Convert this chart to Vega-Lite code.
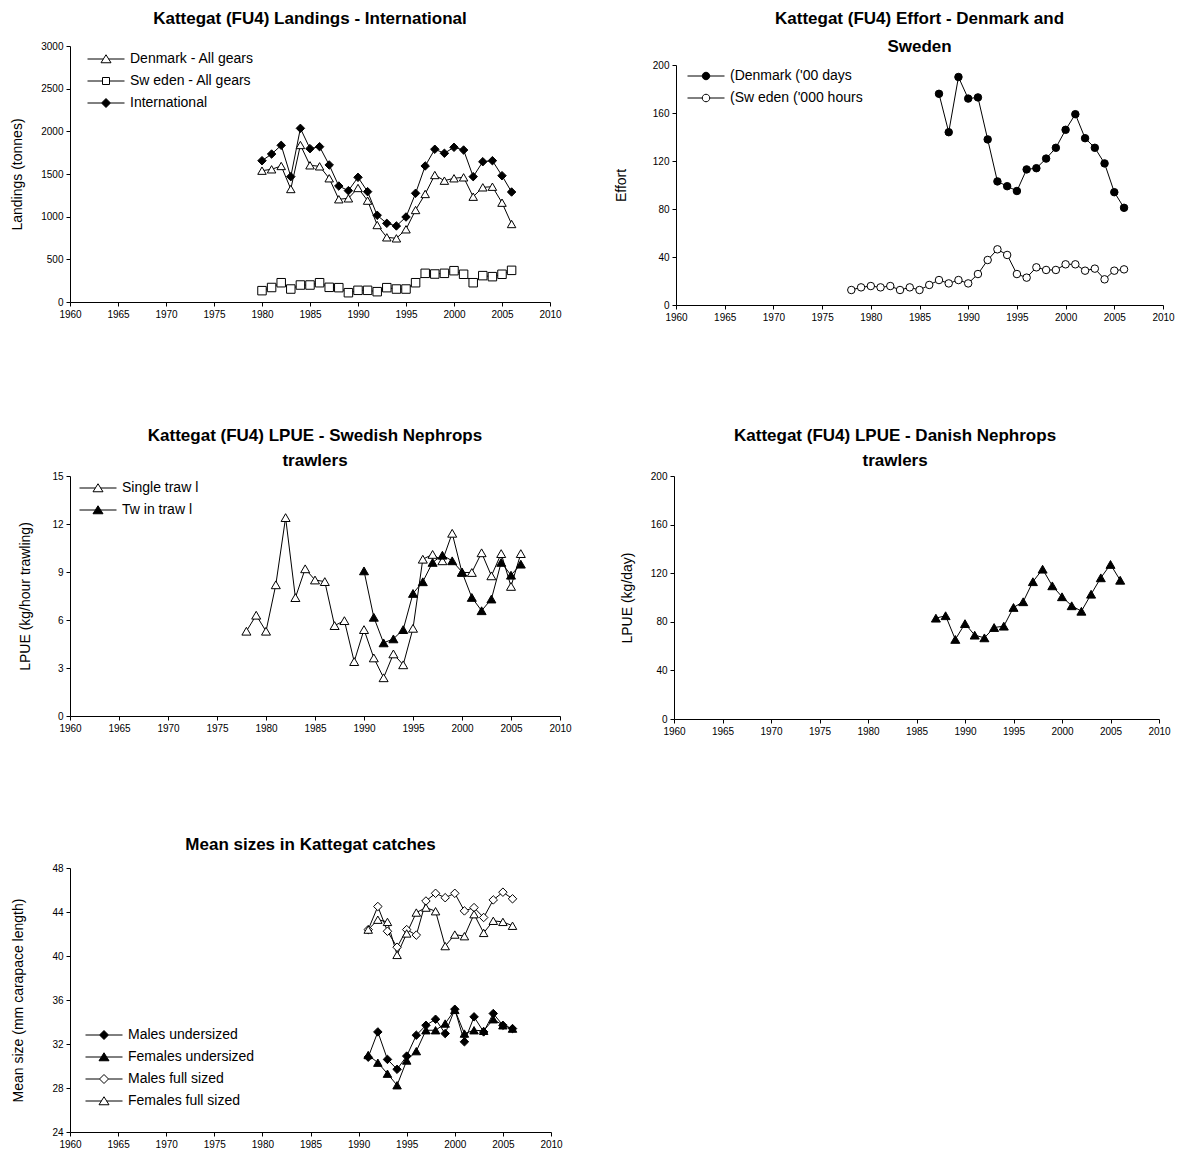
{
  "$schema": "https://vega.github.io/schema/vega-lite/v6.json",
  "padding": {"left": 10, "top": 10, "right": 5, "bottom": 3},
  "background": "white",
  "config": {
    "font": "Liberation Sans",
    "view": {"stroke": null},
    "axis": {"grid": false, "labelFlush": false, "domainColor": "black", "domainWidth": 1, "tickColor": "black", "tickSize": 4, "labelColor": "black", "labelFontSize": 10, "titleColor": "black", "titleFontSize": 14, "titleFontWeight": "normal", "labelPadding": 3},
    "axisY": {"minExtent": 30, "maxExtent": 30},
    "title": {"fontSize": 17, "fontWeight": "bold", "color": "black", "anchor": "middle"},
    "legend": {"labelFontSize": 14, "labelColor": "black", "symbolSize": 100, "symbolOpacity": 1, "labelOffset": 17, "rowPadding": 8, "padding": 0, "symbolStrokeWidth": 1}
  },
  "datasets": {
    "landings": [
      {"year": 1980, "series": "Denmark - All gears", "value": 1539}, {"year": 1981, "series": "Denmark - All gears", "value": 1555}, {"year": 1982, "series": "Denmark - All gears", "value": 1594}, {"year": 1983, "series": "Denmark - All gears", "value": 1324}, {"year": 1984, "series": "Denmark - All gears", "value": 1840}, {"year": 1985, "series": "Denmark - All gears", "value": 1602}, {"year": 1986, "series": "Denmark - All gears", "value": 1590}, {"year": 1987, "series": "Denmark - All gears", "value": 1450}, {"year": 1988, "series": "Denmark - All gears", "value": 1204}, {"year": 1989, "series": "Denmark - All gears", "value": 1215}, {"year": 1990, "series": "Denmark - All gears", "value": 1336}, {"year": 1991, "series": "Denmark - All gears", "value": 1188}, {"year": 1992, "series": "Denmark - All gears", "value": 902}, {"year": 1993, "series": "Denmark - All gears", "value": 758}, {"year": 1994, "series": "Denmark - All gears", "value": 746}, {"year": 1995, "series": "Denmark - All gears", "value": 852}, {"year": 1996, "series": "Denmark - All gears", "value": 1078}, {"year": 1997, "series": "Denmark - All gears", "value": 1266}, {"year": 1998, "series": "Denmark - All gears", "value": 1488}, {"year": 1999, "series": "Denmark - All gears", "value": 1422}, {"year": 2000, "series": "Denmark - All gears", "value": 1450}, {"year": 2001, "series": "Denmark - All gears", "value": 1461}, {"year": 2002, "series": "Denmark - All gears", "value": 1234}, {"year": 2003, "series": "Denmark - All gears", "value": 1344}, {"year": 2004, "series": "Denmark - All gears", "value": 1351}, {"year": 2005, "series": "Denmark - All gears", "value": 1164}, {"year": 2006, "series": "Denmark - All gears", "value": 914},
      {"year": 1980, "series": "Sw eden - All gears", "value": 133}, {"year": 1981, "series": "Sw eden - All gears", "value": 170}, {"year": 1982, "series": "Sw eden - All gears", "value": 226}, {"year": 1983, "series": "Sw eden - All gears", "value": 152}, {"year": 1984, "series": "Sw eden - All gears", "value": 199}, {"year": 1985, "series": "Sw eden - All gears", "value": 199}, {"year": 1986, "series": "Sw eden - All gears", "value": 226}, {"year": 1987, "series": "Sw eden - All gears", "value": 172}, {"year": 1988, "series": "Sw eden - All gears", "value": 168}, {"year": 1989, "series": "Sw eden - All gears", "value": 109}, {"year": 1990, "series": "Sw eden - All gears", "value": 137}, {"year": 1991, "series": "Sw eden - All gears", "value": 137}, {"year": 1992, "series": "Sw eden - All gears", "value": 121}, {"year": 1993, "series": "Sw eden - All gears", "value": 168}, {"year": 1994, "series": "Sw eden - All gears", "value": 152}, {"year": 1995, "series": "Sw eden - All gears", "value": 152}, {"year": 1996, "series": "Sw eden - All gears", "value": 226}, {"year": 1997, "series": "Sw eden - All gears", "value": 336}, {"year": 1998, "series": "Sw eden - All gears", "value": 328}, {"year": 1999, "series": "Sw eden - All gears", "value": 336}, {"year": 2000, "series": "Sw eden - All gears", "value": 367}, {"year": 2001, "series": "Sw eden - All gears", "value": 325}, {"year": 2002, "series": "Sw eden - All gears", "value": 226}, {"year": 2003, "series": "Sw eden - All gears", "value": 309}, {"year": 2004, "series": "Sw eden - All gears", "value": 297}, {"year": 2005, "series": "Sw eden - All gears", "value": 325}, {"year": 2006, "series": "Sw eden - All gears", "value": 371},
      {"year": 1980, "series": "International", "value": 1656}, {"year": 1981, "series": "International", "value": 1734}, {"year": 1982, "series": "International", "value": 1836}, {"year": 1983, "series": "International", "value": 1469}, {"year": 1984, "series": "International", "value": 2035}, {"year": 1985, "series": "International", "value": 1797}, {"year": 1986, "series": "International", "value": 1820}, {"year": 1987, "series": "International", "value": 1606}, {"year": 1988, "series": "International", "value": 1359}, {"year": 1989, "series": "International", "value": 1305}, {"year": 1990, "series": "International", "value": 1461}, {"year": 1991, "series": "International", "value": 1293}, {"year": 1992, "series": "International", "value": 1016}, {"year": 1993, "series": "International", "value": 922}, {"year": 1994, "series": "International", "value": 891}, {"year": 1995, "series": "International", "value": 996}, {"year": 1996, "series": "International", "value": 1274}, {"year": 1997, "series": "International", "value": 1594}, {"year": 1998, "series": "International", "value": 1790}, {"year": 1999, "series": "International", "value": 1743}, {"year": 2000, "series": "International", "value": 1813}, {"year": 2001, "series": "International", "value": 1781}, {"year": 2002, "series": "International", "value": 1469}, {"year": 2003, "series": "International", "value": 1644}, {"year": 2004, "series": "International", "value": 1656}, {"year": 2005, "series": "International", "value": 1480}, {"year": 2006, "series": "International", "value": 1289}
    ],
    "effort": [
      {"year": 1987, "series": "(Denmark ('00 days", "value": 176}, {"year": 1988, "series": "(Denmark ('00 days", "value": 144}, {"year": 1989, "series": "(Denmark ('00 days", "value": 190}, {"year": 1990, "series": "(Denmark ('00 days", "value": 172}, {"year": 1991, "series": "(Denmark ('00 days", "value": 173}, {"year": 1992, "series": "(Denmark ('00 days", "value": 138}, {"year": 1993, "series": "(Denmark ('00 days", "value": 103}, {"year": 1994, "series": "(Denmark ('00 days", "value": 99}, {"year": 1995, "series": "(Denmark ('00 days", "value": 95}, {"year": 1996, "series": "(Denmark ('00 days", "value": 113}, {"year": 1997, "series": "(Denmark ('00 days", "value": 114}, {"year": 1998, "series": "(Denmark ('00 days", "value": 122}, {"year": 1999, "series": "(Denmark ('00 days", "value": 131}, {"year": 2000, "series": "(Denmark ('00 days", "value": 146}, {"year": 2001, "series": "(Denmark ('00 days", "value": 159}, {"year": 2002, "series": "(Denmark ('00 days", "value": 139}, {"year": 2003, "series": "(Denmark ('00 days", "value": 131}, {"year": 2004, "series": "(Denmark ('00 days", "value": 118}, {"year": 2005, "series": "(Denmark ('00 days", "value": 94}, {"year": 2006, "series": "(Denmark ('00 days", "value": 81},
      {"year": 1978, "series": "(Sw eden ('000 hours", "value": 12.5}, {"year": 1979, "series": "(Sw eden ('000 hours", "value": 14.7}, {"year": 1980, "series": "(Sw eden ('000 hours", "value": 15.8}, {"year": 1981, "series": "(Sw eden ('000 hours", "value": 14.7}, {"year": 1982, "series": "(Sw eden ('000 hours", "value": 15.8}, {"year": 1983, "series": "(Sw eden ('000 hours", "value": 12.5}, {"year": 1984, "series": "(Sw eden ('000 hours", "value": 14.7}, {"year": 1985, "series": "(Sw eden ('000 hours", "value": 12.5}, {"year": 1986, "series": "(Sw eden ('000 hours", "value": 16.7}, {"year": 1987, "series": "(Sw eden ('000 hours", "value": 20.8}, {"year": 1988, "series": "(Sw eden ('000 hours", "value": 18}, {"year": 1989, "series": "(Sw eden ('000 hours", "value": 20.8}, {"year": 1990, "series": "(Sw eden ('000 hours", "value": 18}, {"year": 1991, "series": "(Sw eden ('000 hours", "value": 25.8}, {"year": 1992, "series": "(Sw eden ('000 hours", "value": 37.5}, {"year": 1993, "series": "(Sw eden ('000 hours", "value": 46.4}, {"year": 1994, "series": "(Sw eden ('000 hours", "value": 41.7}, {"year": 1995, "series": "(Sw eden ('000 hours", "value": 25.8}, {"year": 1996, "series": "(Sw eden ('000 hours", "value": 22.8}, {"year": 1997, "series": "(Sw eden ('000 hours", "value": 31.4}, {"year": 1998, "series": "(Sw eden ('000 hours", "value": 29.2}, {"year": 1999, "series": "(Sw eden ('000 hours", "value": 29.2}, {"year": 2000, "series": "(Sw eden ('000 hours", "value": 33.9}, {"year": 2001, "series": "(Sw eden ('000 hours", "value": 33.9}, {"year": 2002, "series": "(Sw eden ('000 hours", "value": 28.6}, {"year": 2003, "series": "(Sw eden ('000 hours", "value": 30.3}, {"year": 2004, "series": "(Sw eden ('000 hours", "value": 21.4}, {"year": 2005, "series": "(Sw eden ('000 hours", "value": 28.6}, {"year": 2006, "series": "(Sw eden ('000 hours", "value": 29.7}
    ],
    "lpue_se": [
      {"year": 1978, "series": "Single traw l", "value": 5.3}, {"year": 1979, "series": "Single traw l", "value": 6.3}, {"year": 1980, "series": "Single traw l", "value": 5.3}, {"year": 1981, "series": "Single traw l", "value": 8.2}, {"year": 1982, "series": "Single traw l", "value": 12.4}, {"year": 1983, "series": "Single traw l", "value": 7.4}, {"year": 1984, "series": "Single traw l", "value": 9.2}, {"year": 1985, "series": "Single traw l", "value": 8.5}, {"year": 1986, "series": "Single traw l", "value": 8.4}, {"year": 1987, "series": "Single traw l", "value": 5.65}, {"year": 1988, "series": "Single traw l", "value": 5.96}, {"year": 1989, "series": "Single traw l", "value": 3.4}, {"year": 1990, "series": "Single traw l", "value": 5.4}, {"year": 1991, "series": "Single traw l", "value": 3.63}, {"year": 1992, "series": "Single traw l", "value": 2.39}, {"year": 1993, "series": "Single traw l", "value": 3.88}, {"year": 1994, "series": "Single traw l", "value": 3.2}, {"year": 1995, "series": "Single traw l", "value": 5.48}, {"year": 1996, "series": "Single traw l", "value": 9.8}, {"year": 1997, "series": "Single traw l", "value": 10.1}, {"year": 1998, "series": "Single traw l", "value": 9.7}, {"year": 1999, "series": "Single traw l", "value": 11.42}, {"year": 2000, "series": "Single traw l", "value": 8.97}, {"year": 2001, "series": "Single traw l", "value": 8.97}, {"year": 2002, "series": "Single traw l", "value": 10.2}, {"year": 2003, "series": "Single traw l", "value": 8.76}, {"year": 2004, "series": "Single traw l", "value": 10.15}, {"year": 2005, "series": "Single traw l", "value": 8.1}, {"year": 2006, "series": "Single traw l", "value": 10.15},
      {"year": 1990, "series": "Tw in traw l", "value": 9.07}, {"year": 1991, "series": "Tw in traw l", "value": 6.17}, {"year": 1992, "series": "Tw in traw l", "value": 4.57}, {"year": 1993, "series": "Tw in traw l", "value": 4.82}, {"year": 1994, "series": "Tw in traw l", "value": 5.4}, {"year": 1995, "series": "Tw in traw l", "value": 7.66}, {"year": 1996, "series": "Tw in traw l", "value": 8.39}, {"year": 1997, "series": "Tw in traw l", "value": 9.6}, {"year": 1998, "series": "Tw in traw l", "value": 10.05}, {"year": 1999, "series": "Tw in traw l", "value": 9.7}, {"year": 2000, "series": "Tw in traw l", "value": 9.0}, {"year": 2001, "series": "Tw in traw l", "value": 7.41}, {"year": 2002, "series": "Tw in traw l", "value": 6.58}, {"year": 2003, "series": "Tw in traw l", "value": 7.31}, {"year": 2004, "series": "Tw in traw l", "value": 9.6}, {"year": 2005, "series": "Tw in traw l", "value": 8.8}, {"year": 2006, "series": "Tw in traw l", "value": 9.49}
    ],
    "lpue_dk": [
      {"year": 1987, "value": 83}, {"year": 1988, "value": 85}, {"year": 1989, "value": 65.5}, {"year": 1990, "value": 78.5}, {"year": 1991, "value": 69}, {"year": 1992, "value": 66.8}, {"year": 1993, "value": 75.3}, {"year": 1994, "value": 76.4}, {"year": 1995, "value": 91.8}, {"year": 1996, "value": 96.5}, {"year": 1997, "value": 113}, {"year": 1998, "value": 123.3}, {"year": 1999, "value": 109.6}, {"year": 2000, "value": 100.6}, {"year": 2001, "value": 93.2}, {"year": 2002, "value": 88.7}, {"year": 2003, "value": 102.7}, {"year": 2004, "value": 116.2}, {"year": 2005, "value": 127.2}, {"year": 2006, "value": 114.2}
    ],
    "sizes": [
      {"year": 1991, "series": "Males undersized", "value": 30.8}, {"year": 1992, "series": "Males undersized", "value": 33.1}, {"year": 1993, "series": "Males undersized", "value": 30.6}, {"year": 1994, "series": "Males undersized", "value": 29.7}, {"year": 1995, "series": "Males undersized", "value": 30.9}, {"year": 1996, "series": "Males undersized", "value": 32.8}, {"year": 1997, "series": "Males undersized", "value": 33.7}, {"year": 1998, "series": "Males undersized", "value": 34.25}, {"year": 1999, "series": "Males undersized", "value": 32.95}, {"year": 2000, "series": "Males undersized", "value": 35.16}, {"year": 2001, "series": "Males undersized", "value": 32.2}, {"year": 2002, "series": "Males undersized", "value": 34.47}, {"year": 2003, "series": "Males undersized", "value": 33.1}, {"year": 2004, "series": "Males undersized", "value": 34.77}, {"year": 2005, "series": "Males undersized", "value": 33.7}, {"year": 2006, "series": "Males undersized", "value": 33.4},
      {"year": 1991, "series": "Females undersized", "value": 31.0}, {"year": 1992, "series": "Females undersized", "value": 30.3}, {"year": 1993, "series": "Females undersized", "value": 29.3}, {"year": 1994, "series": "Females undersized", "value": 28.25}, {"year": 1995, "series": "Females undersized", "value": 30.5}, {"year": 1996, "series": "Females undersized", "value": 31.35}, {"year": 1997, "series": "Females undersized", "value": 33.25}, {"year": 1998, "series": "Females undersized", "value": 33.25}, {"year": 1999, "series": "Females undersized", "value": 33.86}, {"year": 2000, "series": "Females undersized", "value": 35.1}, {"year": 2001, "series": "Females undersized", "value": 32.95}, {"year": 2002, "series": "Females undersized", "value": 33.25}, {"year": 2003, "series": "Females undersized", "value": 33.2}, {"year": 2004, "series": "Females undersized", "value": 34.25}, {"year": 2005, "series": "Females undersized", "value": 33.7}, {"year": 2006, "series": "Females undersized", "value": 33.4},
      {"year": 1991, "series": "Males full sized", "value": 42.4}, {"year": 1992, "series": "Males full sized", "value": 44.5}, {"year": 1993, "series": "Males full sized", "value": 42.25}, {"year": 1994, "series": "Males full sized", "value": 40.8}, {"year": 1995, "series": "Males full sized", "value": 42.4}, {"year": 1996, "series": "Males full sized", "value": 41.9}, {"year": 1997, "series": "Males full sized", "value": 45.0}, {"year": 1998, "series": "Males full sized", "value": 45.7}, {"year": 1999, "series": "Males full sized", "value": 45.3}, {"year": 2000, "series": "Males full sized", "value": 45.7}, {"year": 2001, "series": "Males full sized", "value": 44.1}, {"year": 2002, "series": "Males full sized", "value": 44.4}, {"year": 2003, "series": "Males full sized", "value": 43.5}, {"year": 2004, "series": "Males full sized", "value": 45.1}, {"year": 2005, "series": "Males full sized", "value": 45.8}, {"year": 2006, "series": "Males full sized", "value": 45.2},
      {"year": 1991, "series": "Females full sized", "value": 42.4}, {"year": 1992, "series": "Females full sized", "value": 43.3}, {"year": 1993, "series": "Females full sized", "value": 43.1}, {"year": 1994, "series": "Females full sized", "value": 40.1}, {"year": 1995, "series": "Females full sized", "value": 42.05}, {"year": 1996, "series": "Females full sized", "value": 43.95}, {"year": 1997, "series": "Females full sized", "value": 44.4}, {"year": 1998, "series": "Females full sized", "value": 44.07}, {"year": 1999, "series": "Females full sized", "value": 40.9}, {"year": 2000, "series": "Females full sized", "value": 41.95}, {"year": 2001, "series": "Females full sized", "value": 41.8}, {"year": 2002, "series": "Females full sized", "value": 43.8}, {"year": 2003, "series": "Females full sized", "value": 42.1}, {"year": 2004, "series": "Females full sized", "value": 43.2}, {"year": 2005, "series": "Females full sized", "value": 43.1}, {"year": 2006, "series": "Females full sized", "value": 42.75}
    ]
  },
  "resolve": {"scale": {"fill": "independent", "shape": "independent"}},
  "spacing": 100,
  "vconcat": [
    {
      "resolve": {"scale": {"fill": "independent", "shape": "independent"}},
      "spacing": 105,
      "vconcat": [
        {
          "resolve": {"scale": {"fill": "independent", "shape": "independent"}},
          "spacing": 52,
          "hconcat": [
            {
              "width": 480, "height": 256,
              "title": {"text": "Kattegat (FU4) Landings - International", "offset": 13},
              "data": {"name": "landings"},
              "encoding": {
                "x": {"field": "year", "type": "quantitative", "scale": {"domain": [1960, 2010], "nice": false, "zero": false}, "axis": {"title": null, "values": [1960, 1965, 1970, 1975, 1980, 1985, 1990, 1995, 2000, 2005, 2010], "format": "d"}},
                "y": {"field": "value", "type": "quantitative", "scale": {"domain": [0, 3000], "nice": false}, "axis": {"title": "Landings (tonnes)", "values": [0, 500, 1000, 1500, 2000, 2500, 3000], "format": "d", "titlePadding": 15.5}}
              },
              "resolve": {"scale": {"fill": "independent", "shape": "independent"}},
              "layer": [
                {"mark": {"type": "line", "color": "black", "strokeWidth": 1}, "encoding": {"detail": {"field": "series"}}},
                {
                  "mark": {"type": "point", "filled": true, "stroke": "black", "strokeWidth": 1, "opacity": 1, "size": 72},
                  "encoding": {
                    "shape": {"field": "series", "type": "nominal", "scale": {"domain": ["Denmark - All gears", "Sw eden - All gears", "International"], "range": ["triangle-up", "square", "diamond"]}, "legend": null},
                    "fill": {"field": "series", "type": "nominal", "scale": {"domain": ["Denmark - All gears", "Sw eden - All gears", "International"], "range": ["white", "white", "black"]}, "legend": null}
                  }
                },
                {
                  "mark": {"type": "point", "filled": true, "stroke": "black", "strokeWidth": 1, "opacity": 0, "size": 100},
                  "encoding": {
                    "shape": {"field": "series", "type": "nominal", "scale": {"domain": ["Denmark - All gears", "Sw eden - All gears", "International"], "range": ["M0,-0.85L1,0.75L-1,0.75ZM-3.7,0H-0.53M0.53,0H3.7", "M-0.7,-0.7H0.7V0.7H-0.7ZM-3.7,0H-0.7M0.7,0H3.7", "M0,-0.9L0.9,0L0,0.9L-0.9,0ZM-3.7,0H-0.9M0.9,0H3.7"]}, "legend": {"title": null, "orient": "none", "legendX": 29, "legendY": 6}},
                    "fill": {"field": "series", "type": "nominal", "scale": {"domain": ["Denmark - All gears", "Sw eden - All gears", "International"], "range": ["white", "white", "black"]}, "legend": {"title": null, "orient": "none", "legendX": 29, "legendY": 6}}
                  }
                }
              ]
            },
            {
              "width": 487, "height": 259,
              "title": {"text": ["Kattegat (FU4) Effort - Denmark and", "Sweden"], "offset": 4, "dy": 14, "lineHeight": 28},
              "data": {"name": "effort"},
              "encoding": {
                "x": {"field": "year", "type": "quantitative", "scale": {"domain": [1960, 2010], "nice": false, "zero": false}, "axis": {"title": null, "values": [1960, 1965, 1970, 1975, 1980, 1985, 1990, 1995, 2000, 2005, 2010], "format": "d"}},
                "y": {"field": "value", "type": "quantitative", "scale": {"domain": [0, 200], "nice": false, "range": [259, 19]}, "axis": {"title": "Effort", "values": [0, 40, 80, 120, 160, 200], "titlePadding": 18}}
              },
              "resolve": {"scale": {"fill": "independent", "shape": "independent"}},
              "layer": [
                {"mark": {"type": "line", "color": "black", "strokeWidth": 1}, "encoding": {"detail": {"field": "series"}}},
                {
                  "mark": {"type": "point", "filled": true, "stroke": "black", "strokeWidth": 1, "opacity": 1, "size": 56, "shape": "circle"},
                  "encoding": {
                    "fill": {"field": "series", "type": "nominal", "scale": {"domain": ["(Denmark ('00 days", "(Sw eden ('000 hours"], "range": ["black", "white"]}, "legend": null}
                  }
                },
                {
                  "mark": {"type": "point", "filled": true, "stroke": "black", "strokeWidth": 1, "opacity": 0, "size": 100},
                  "encoding": {
                    "shape": {"field": "series", "type": "nominal", "scale": {"domain": ["(Denmark ('00 days", "(Sw eden ('000 hours"], "range": ["M-0.75,0A0.75,0.75,0,1,1,0.75,0A0.75,0.75,0,1,1,-0.75,0ZM-3.7,0H-0.75M0.75,0H3.7", "M-0.75,0A0.75,0.75,0,1,1,0.75,0A0.75,0.75,0,1,1,-0.75,0ZM-3.7,0H-0.75M0.75,0H3.7"]}, "legend": {"title": null, "orient": "none", "legendX": 23, "legendY": 23}},
                    "fill": {"field": "series", "type": "nominal", "scale": {"domain": ["(Denmark ('00 days", "(Sw eden ('000 hours"], "range": ["black", "white"]}, "legend": {"title": null, "orient": "none", "legendX": 23, "legendY": 23}}
                  }
                }
              ]
            }
          ]
        },
        {
          "resolve": {"scale": {"fill": "independent", "shape": "independent"}},
          "spacing": 48,
          "hconcat": [
            {
              "width": 490, "height": 240,
              "title": {"text": ["Kattegat (FU4) LPUE - Swedish Nephrops", "trawlers"], "offset": 1, "lineHeight": 25},
              "data": {"name": "lpue_se"},
              "encoding": {
                "x": {"field": "year", "type": "quantitative", "scale": {"domain": [1960, 2010], "nice": false, "zero": false}, "axis": {"title": null, "values": [1960, 1965, 1970, 1975, 1980, 1985, 1990, 1995, 2000, 2005, 2010], "format": "d"}},
                "y": {"field": "value", "type": "quantitative", "scale": {"domain": [0, 15], "nice": false}, "axis": {"title": "LPUE (kg/hour trawling)", "values": [0, 3, 6, 9, 12, 15], "titlePadding": 8}}
              },
              "resolve": {"scale": {"fill": "independent", "shape": "independent"}},
              "layer": [
                {"mark": {"type": "line", "color": "black", "strokeWidth": 1}, "encoding": {"detail": {"field": "series"}}},
                {
                  "mark": {"type": "point", "filled": true, "stroke": "black", "strokeWidth": 1, "opacity": 1, "size": 81, "shape": "triangle-up"},
                  "encoding": {
                    "fill": {"field": "series", "type": "nominal", "scale": {"domain": ["Single traw l", "Tw in traw l"], "range": ["white", "black"]}, "legend": null}
                  }
                },
                {
                  "mark": {"type": "point", "filled": true, "stroke": "black", "strokeWidth": 1, "opacity": 0, "size": 100},
                  "encoding": {
                    "shape": {"field": "series", "type": "nominal", "scale": {"domain": ["Single traw l", "Tw in traw l"], "range": ["M0,-0.85L1,0.75L-1,0.75ZM-3.7,0H-0.53M0.53,0H3.7", "M0,-0.85L1,0.75L-1,0.75ZM-3.7,0H-0.53M0.53,0H3.7"]}, "legend": {"title": null, "orient": "none", "legendX": 21, "legendY": 5}},
                    "fill": {"field": "series", "type": "nominal", "scale": {"domain": ["Single traw l", "Tw in traw l"], "range": ["white", "black"]}, "legend": {"title": null, "orient": "none", "legendX": 21, "legendY": 5}}
                  }
                }
              ]
            },
            {
              "width": 485, "height": 243,
              "title": {"text": ["Kattegat (FU4) LPUE - Danish Nephrops", "trawlers"], "offset": 1, "lineHeight": 25, "frame": "bounds"},
              "data": {"name": "lpue_dk"},
              "encoding": {
                "x": {"field": "year", "type": "quantitative", "scale": {"domain": [1960, 2010], "nice": false, "zero": false}, "axis": {"title": null, "values": [1960, 1965, 1970, 1975, 1980, 1985, 1990, 1995, 2000, 2005, 2010], "format": "d"}},
                "y": {"field": "value", "type": "quantitative", "scale": {"domain": [0, 200], "nice": false}, "axis": {"title": "LPUE (kg/day)", "values": [0, 40, 80, 120, 160, 200], "titlePadding": 10}}
              },
              "layer": [
                {"mark": {"type": "line", "color": "black", "strokeWidth": 1}, "encoding": {}},
                {"mark": {"type": "point", "filled": true, "fill": "black", "stroke": "black", "strokeWidth": 1, "opacity": 1, "size": 81, "shape": "triangle-up"}, "encoding": {}}
              ]
            }
          ]
        }
      ]
    },
    {
      "width": 481, "height": 264,
      "title": {"text": "Mean sizes in Kattegat catches", "offset": 9},
      "data": {"name": "sizes"},
      "encoding": {
        "x": {"field": "year", "type": "quantitative", "scale": {"domain": [1960, 2010], "nice": false, "zero": false}, "axis": {"title": null, "values": [1960, 1965, 1970, 1975, 1980, 1985, 1990, 1995, 2000, 2005, 2010], "format": "d"}},
        "y": {"field": "value", "type": "quantitative", "scale": {"domain": [24, 48], "nice": false, "zero": false}, "axis": {"title": "Mean size (mm carapace length)", "values": [24, 28, 32, 36, 40, 44, 48], "titlePadding": 14.5}}
      },
      "resolve": {"scale": {"fill": "independent", "shape": "independent"}},
      "layer": [
        {"mark": {"type": "line", "color": "black", "strokeWidth": 1}, "encoding": {"detail": {"field": "series"}}},
        {
          "mark": {"type": "point", "filled": true, "stroke": "black", "strokeWidth": 1, "opacity": 1, "size": 72},
          "encoding": {
            "shape": {"field": "series", "type": "nominal", "scale": {"domain": ["Males undersized", "Females undersized", "Males full sized", "Females full sized"], "range": ["diamond", "triangle-up", "diamond", "triangle-up"]}, "legend": null},
            "fill": {"field": "series", "type": "nominal", "scale": {"domain": ["Males undersized", "Females undersized", "Males full sized", "Females full sized"], "range": ["black", "black", "white", "white"]}, "legend": null}
          }
        },
        {
          "mark": {"type": "point", "filled": true, "stroke": "black", "strokeWidth": 1, "opacity": 0, "size": 100},
          "encoding": {
            "shape": {"field": "series", "type": "nominal", "scale": {"domain": ["Males undersized", "Females undersized", "Males full sized", "Females full sized"], "range": ["M0,-0.9L0.9,0L0,0.9L-0.9,0ZM-3.7,0H-0.9M0.9,0H3.7", "M0,-0.85L1,0.75L-1,0.75ZM-3.7,0H-0.53M0.53,0H3.7", "M0,-0.9L0.9,0L0,0.9L-0.9,0ZM-3.7,0H-0.9M0.9,0H3.7", "M0,-0.85L1,0.75L-1,0.75ZM-3.7,0H-0.53M0.53,0H3.7"]}, "legend": {"title": null, "orient": "none", "legendX": 27, "legendY": 160}},
            "fill": {"field": "series", "type": "nominal", "scale": {"domain": ["Males undersized", "Females undersized", "Males full sized", "Females full sized"], "range": ["black", "black", "white", "white"]}, "legend": {"title": null, "orient": "none", "legendX": 27, "legendY": 160}}
          }
        }
      ]
    }
  ]
}
